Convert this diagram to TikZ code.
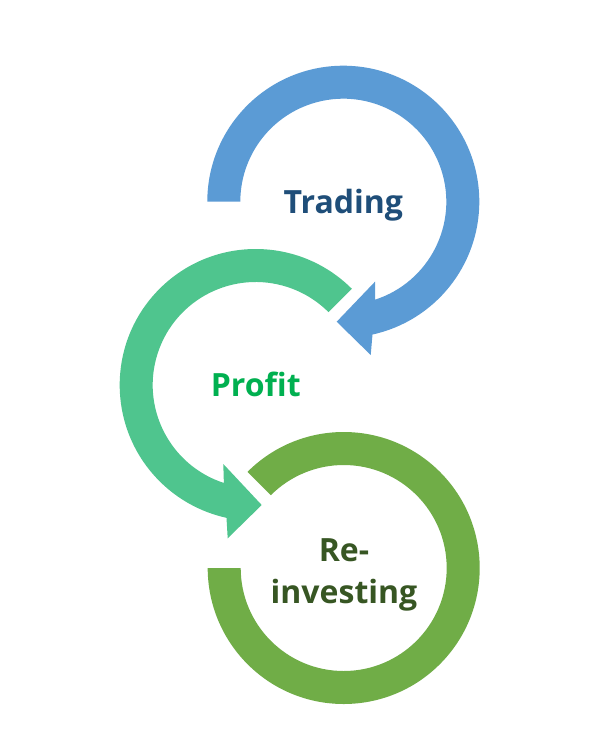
\documentclass[tikz,border=0pt]{standalone}
\usepackage{fontspec}
\setmainfont{Open Sans}
\usetikzlibrary{calc}
\definecolor{ringblue}{HTML}{5B9BD5}
\definecolor{ringteal}{HTML}{4FC58E}
\definecolor{ringgreen}{HTML}{70AD47}
\definecolor{txtblue}{HTML}{1F4E79}
\definecolor{txtgreen}{HTML}{00B050}
\definecolor{txtdark}{HTML}{375623}
\begin{document}
\begin{tikzpicture}[x=1pt,y=1pt,
  label/.style={font=\fontsize{32}{41.6}\selectfont\bfseries, inner sep=0pt, align=center}]
\useasboundingbox (0,0) rectangle (598,-748);
\fill[white] (0,0) rectangle (598,-748);
% centres
\coordinate (cB) at (343.3,-201.7);
\coordinate (cT) at (255.7,-385);
\coordinate (cG) at (343.7,-568);
% arrowhead points
\coordinate (bB1) at (370.7,-355);
\coordinate (bTip) at (336.7,-321.7);
\coordinate (bB2) at (375,-281.7);
\coordinate (tB1) at (227.7,-538.3);
\coordinate (tTip) at (261.7,-505);
\coordinate (tB2) at (223.3,-464);
% blue ring arrow
\fill[ringblue] ($(cB)+(180:136pt)$) arc[start angle=180, end angle=-77.6, radius=136pt]
  -- (bB1) -- (bTip) -- (bB2) -- ($(cB)+(-72:103pt)$)
  arc[start angle=-72, end angle=180, radius=103pt] -- cycle;
% teal ring arrow
\fill[ringteal] ($(cT)+(45:136pt)$) arc[start angle=45, end angle=257.6, radius=136pt]
  -- (tB1) -- (tTip) -- (tB2) -- ($(cT)+(252:103pt)$)
  arc[start angle=252, end angle=45, radius=103pt] -- cycle;
% green ring
\fill[ringgreen] ($(cG)+(135:136pt)$) arc[start angle=135, end angle=-180, radius=136pt]
  -- ($(cG)+(180:103pt)$) arc[start angle=-180, end angle=135, radius=103pt] -- cycle;
% labels
\node[label, text=txtblue, anchor=base] (trading) at (343.3,-213) {Trading};
\node[label, text=txtgreen, anchor=base] (profit) at (255.8,-396.7) {Profit};
\node[label, text=txtdark, anchor=base] (reinv) at (344,-603.3) {Re-\\investing};
\end{tikzpicture}
\end{document}
